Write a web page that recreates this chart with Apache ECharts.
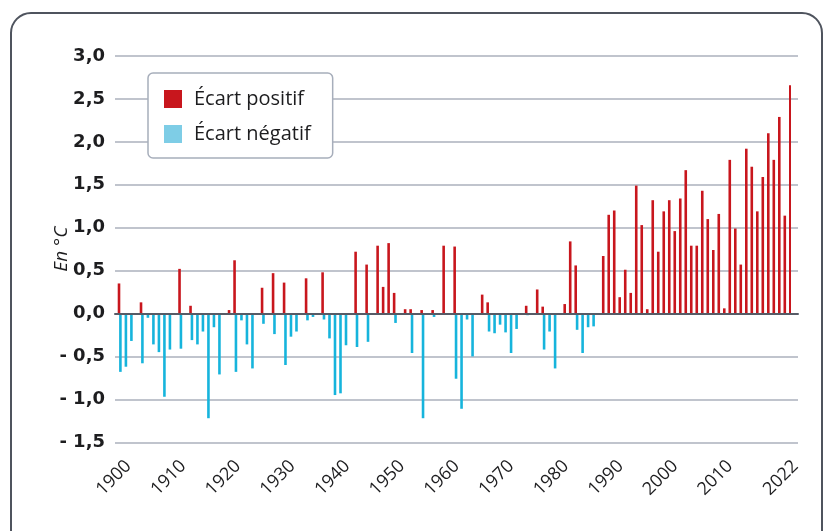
<!DOCTYPE html>
<html>
<head>
<meta charset="utf-8">
<script src="https://cdn.jsdelivr.net/npm/echarts@6/dist/echarts.min.js"></script>
<style>
  html, body { margin: 0; padding: 0; background: #fff; }
  #main { width: 825px; height: 531px; }
</style>
</head>
<body>
<div id="main"></div>
<script>
// écart de température annuelle, 1900 -> 2022 (en °C)
var years = []
for (var y = 1900; y <= 2022; y++) years.push(String(y))

var ecarts = [
  0.35, -0.68, -0.62, -0.32, 0.13, -0.58, -0.05, -0.36, -0.45, -0.97, // 1900-1909
  -0.42, 0.52, -0.41, 0.09, -0.31, -0.36, -0.21, -1.22, -0.16, -0.71, // 1910-1919
  0.04, 0.62, -0.68, -0.08, -0.36, -0.64, 0.30, -0.12, 0.47, -0.24, // 1920-1929
  0.36, -0.60, -0.27, -0.21, 0.41, -0.08, -0.04, 0.48, -0.07, -0.29, // 1930-1939
  -0.95, -0.93, -0.37, 0.72, -0.39, 0.57, -0.33, 0.79, 0.31, 0.82, // 1940-1949
  0.24, -0.11, 0.05, 0.05, -0.46, 0.04, -1.22, 0.04, -0.04, 0.79, // 1950-1959
  0, 0.78, -0.76, -1.11, -0.07, -0.50, 0.22, 0.13, -0.21, -0.23, // 1960-1969
  -0.13, -0.22, -0.46, -0.18, 0.09, -0.02, 0.28, 0.08, -0.42, -0.21, // 1970-1979
  -0.64, 0.11, 0.84, 0.56, -0.19, -0.46, -0.16, -0.15, 0.67, 1.15, // 1980-1989
  1.20, 0.19, 0.51, 0.24, 1.49, 1.03, 0.05, 1.32, 0.72, 1.19, // 1990-1999
  1.32, 0.96, 1.34, 1.67, 0.79, 0.79, 1.43, 1.10, 0.74, 1.16, // 2000-2009
  0.06, 1.79, 0.99, 0.57, 1.92, 1.71, 1.19, 1.59, 2.10, 1.79, // 2010-2019
  2.29, 1.14, 2.66 // 2020-2022
]

var yearLabels = ['1900', '1910', '1920', '1930', '1940', '1950', '1960',
  '1970', '1980', '1990', '2000', '2010', '2022']

var positif = ecarts.map(function (v) { return v > 0 ? v : '-' })
var negatif = ecarts.map(function (v) { return v < 0 ? v : '-' })

var font = "'Open Sans', 'Noto Sans', sans-serif"
var gridTop = 56
var gridBottom = 531 - 442.25

var myChart = echarts.init(document.getElementById('main'))
var option = {
  animation: false,
  backgroundColor: '#fff',
  graphic: [{
    type: 'rect',
    shape: { x: 11, y: 13, width: 811, height: 560, r: 20 },
    style: { fill: 'none', stroke: '#4f545e', lineWidth: 2 },
    silent: true
  }],
  legend: {
    orient: 'vertical',
    left: 148,
    top: 73,
    padding: [16, 22, 14, 16],
    itemWidth: 18,
    itemHeight: 18,
    itemGap: 15,
    icon: 'rect',
    backgroundColor: '#fff',
    borderColor: '#a7aebb',
    borderWidth: 1.5,
    borderRadius: 5,
    textStyle: { fontFamily: font, fontSize: 20, color: '#1d1d1f', padding: [0, 0, 0, 7] },
    data: [
      { name: 'Écart positif', itemStyle: { color: '#c8161d' } },
      { name: 'Écart négatif', itemStyle: { color: '#7ecde6' } }
    ]
  },
  grid: [
    // barres
    { left: 114.2, right: 34, top: gridTop, bottom: gridBottom },
    // lignes de grille + axe des ordonnées
    { left: 115, right: 27, top: gridTop, bottom: gridBottom },
    // étiquettes des années
    { left: 128.5, right: 29.5, top: gridTop, bottom: gridBottom }
  ],
  xAxis: [
    {
      gridIndex: 0, type: 'category', data: years,
      axisLine: { show: false }, axisTick: { show: false }, axisLabel: { show: false }
    },
    {
      gridIndex: 1, type: 'value', min: 0, max: 1, z: 5,
      axisLine: { show: true, onZero: true, lineStyle: { color: '#565b66', width: 2 } },
      axisTick: { show: false }, axisLabel: { show: false }, splitLine: { show: false }
    },
    {
      gridIndex: 2, type: 'category', data: years, boundaryGap: false,
      axisLine: { show: false }, axisTick: { show: false },
      axisLabel: {
        rotate: 45,
        margin: 21,
        fontFamily: font,
        fontSize: 18,
        color: '#1d1d1f',
        interval: function (i, v) { return yearLabels.indexOf(v) >= 0 }
      }
    }
  ],
  yAxis: [
    {
      gridIndex: 0, type: 'value', min: -1.5, max: 3,
      axisLine: { show: false }, axisTick: { show: false },
      axisLabel: { show: false }, splitLine: { show: false }
    },
    {
      gridIndex: 1, type: 'value', min: -1.5, max: 3, interval: 0.5,
      name: 'En °C',
      nameLocation: 'middle',
      nameRotate: 90,
      nameGap: 44,
      nameMoveOverlap: false,
      nameTextStyle: { fontFamily: font, fontSize: 19, fontStyle: 'italic', color: '#1d1d1f' },
      axisLine: { show: false }, axisTick: { show: false },
      axisLabel: {
        margin: 10,
        fontFamily: "'DejaVu Sans', sans-serif",
        fontSize: 18,
        fontWeight: 'bold',
        color: '#1d1d1f',
        padding: [0, 0, 5, 0],
        formatter: function (v) {
          var s = Math.abs(v).toFixed(1).replace('.', ',')
          return v < 0 ? '- ' + s : s
        }
      },
      splitLine: { lineStyle: { color: '#abb0bc', width: 1.6 } }
    },
    {
      gridIndex: 2, type: 'value', min: -1.5, max: 3, show: false
    }
  ],
  series: [
    {
      name: 'Écart négatif',
      type: 'bar',
      xAxisIndex: 0,
      yAxisIndex: 0,
      barWidth: 2.6,
      barGap: '58%',
      itemStyle: { color: '#16b4dc' },
      data: negatif
    },
    {
      name: 'Écart positif',
      type: 'bar',
      xAxisIndex: 0,
      yAxisIndex: 0,
      barWidth: 2.6,
      barGap: '58%',
      itemStyle: { color: '#c8161d' },
      data: positif
    }
  ]
}
myChart.setOption(option)
</script>
</body>
</html>
